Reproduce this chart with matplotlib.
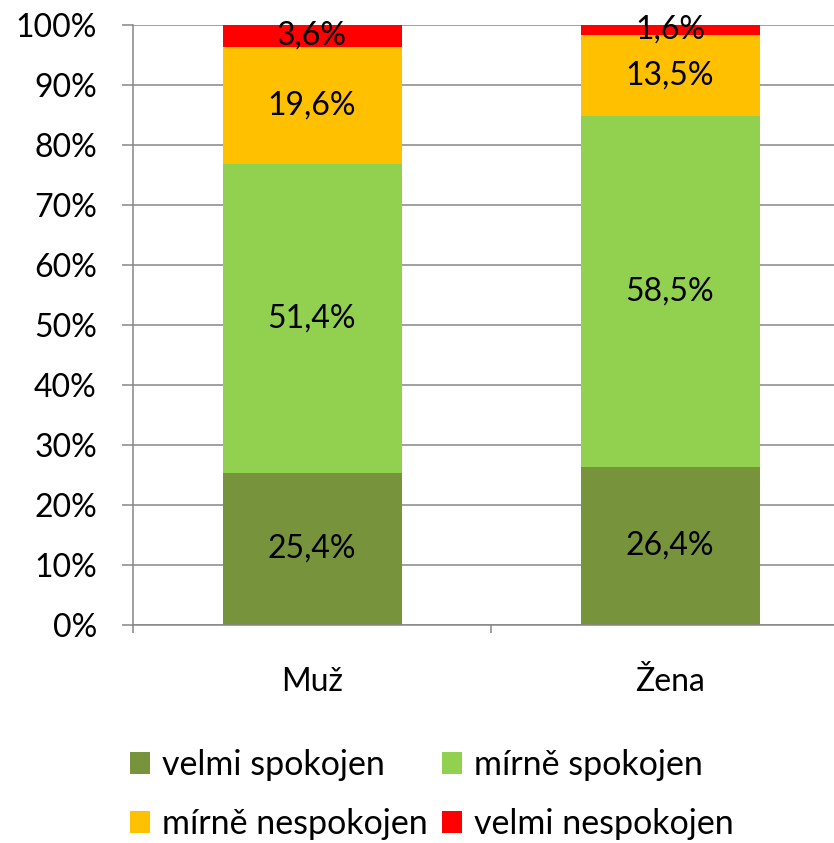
import matplotlib.pyplot as plt
from matplotlib.patches import Patch
import numpy as np

plt.rcParams['font.family'] = ['Lato', 'DejaVu Sans']

categories = ['Muž', 'Žena']
series = ['velmi spokojen', 'mírně spokojen', 'mírně nespokojen', 'velmi nespokojen']
velmi_spokojen = [25.4, 26.4]
mirne_spokojen = [51.4, 58.5]
mirne_nespokojen = [19.6, 13.5]
velmi_nespokojen = [3.6, 1.6]
colors = ['#77933C', '#92D050', '#FFC000', '#FF0000']

values = [velmi_spokojen, mirne_spokojen, mirne_nespokojen, velmi_nespokojen]
fs = 23
grid_c = '#868686'

fig = plt.figure(figsize=(8.34, 8.43), dpi=100)
ax = fig.add_axes([133/834, 218/843, 716/834, 600/843])

x = np.arange(len(categories))
bottom = np.zeros(len(categories))
for name, vals, c in zip(series, values, colors):
    bars = ax.bar(x, vals, 0.5, bottom=bottom, color=c, edgecolor='none',
                  label=name, zorder=2)
    ax.bar_label(bars, labels=[('%.1f%%' % v).replace('.', ',') for v in vals],
                 label_type='center', fontsize=fs, color='black')
    bottom += np.array(vals)

ax.set_xlim(-0.5, 1.5)
ax.set_ylim(0, 100)
ax.set_yticks(np.arange(0, 101, 10))
ax.set_yticklabels(['%d%%' % v for v in range(0, 101, 10)], fontsize=fs)
ax.yaxis.grid(True, color=grid_c, lw=1.1, zorder=0)
ax.tick_params(axis='y', length=8, width=1.1, color=grid_c, pad=18)

ax.set_xticks(x)
ax.set_xticklabels(categories, fontsize=fs)
ax.set_xticks([-0.5, 0.5, 1.5], minor=True)
ax.tick_params(axis='x', which='major', length=0, pad=30)
ax.tick_params(axis='x', which='minor', length=6, width=1.1, color=grid_c)

for s in ['top', 'right']:
    ax.spines[s].set_visible(False)
for s in ['left', 'bottom']:
    ax.spines[s].set_color(grid_c)
    ax.spines[s].set_linewidth(1.1)

# legend is filled row by row, matplotlib fills columns first
order = [0, 2, 1, 3]
handles = [Patch(facecolor=colors[i], edgecolor='none') for i in order]
labels = [series[i] for i in order]
fig.legend(handles, labels, loc='upper left', bbox_to_anchor=(130/834, 1 - 749/843),
           ncol=2, frameon=False, fontsize=24.5, handlelength=0.6, handleheight=0.6,
           handletextpad=0.35, columnspacing=0.4, labelspacing=0.8,
           borderpad=0, borderaxespad=0)

fig.savefig('out.png', dpi=100)
